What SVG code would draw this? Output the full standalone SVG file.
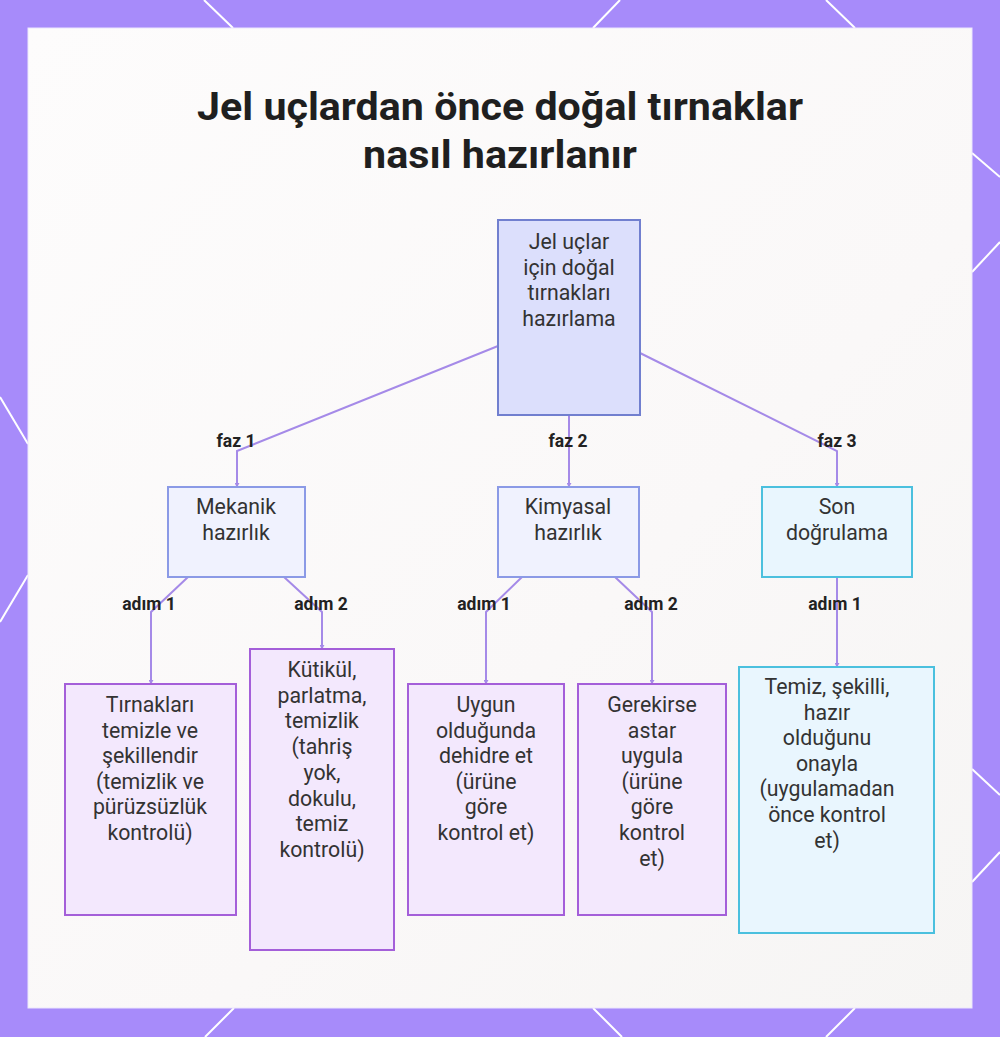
<svg xmlns="http://www.w3.org/2000/svg" width="1000" height="1037" viewBox="0 0 1000 1037">
<defs>
<linearGradient id="bg" x1="0" y1="0" x2="1" y2="1">
<stop offset="0" stop-color="#fdfcfc"/>
<stop offset="0.6" stop-color="#faf8f8"/>
<stop offset="1" stop-color="#f6f5f4"/>
</linearGradient>
<marker id="ah" viewBox="0 0 6 6" refX="5" refY="3" markerWidth="2.5" markerHeight="2.5" orient="auto">
<path d="M0,0 L6,3 L0,6 z" fill="#a58ae8"/>
</marker>
<style>
.frame{fill:#a78bfa}
.wl{stroke:#ffffff;stroke-width:2;fill:none}
.t{font-family:Roboto,"Liberation Sans",sans-serif;font-size:21.3px;fill:#333333;text-anchor:middle}
.lbl{font-family:Roboto,"Liberation Sans",sans-serif;font-size:17.5px;font-weight:700;fill:#222222;text-anchor:middle}
.title{font-family:Roboto,"Liberation Sans",sans-serif;font-size:38px;font-weight:700;fill:#1f1f1f;text-anchor:middle}
.root{fill:#dcdffc;stroke:#717fcf;stroke-width:2}
.phase{fill:#f0f2fe;stroke:#8b9ae6;stroke-width:2}
.cyan{fill:#e9f6fe;stroke:#4bc0de;stroke-width:2}
.leaf{fill:#f3e8fd;stroke:#a45fd9;stroke-width:2}
.c{stroke:#a58ae8;stroke-width:2;fill:none;marker-end:url(#ah)}
</style>
</defs>
<rect class="frame" x="0" y="0" width="1000" height="1037"/>
<g id="frame-lines">
<line class="wl" x1="204" y1="0" x2="233" y2="28"/>
<line class="wl" x1="620" y1="0" x2="593" y2="28"/>
<line class="wl" x1="826" y1="0" x2="855" y2="28"/>
<line class="wl" x1="234" y1="1008" x2="205" y2="1037"/>
<line class="wl" x1="593" y1="1008" x2="622" y2="1037"/>
<line class="wl" x1="855" y1="1008" x2="826" y2="1037"/>
<line class="wl" x1="972" y1="153" x2="1000" y2="177"/>
<line class="wl" x1="972" y1="272" x2="1000" y2="242"/>
<line class="wl" x1="972" y1="769" x2="1000" y2="795"/>
<line class="wl" x1="972" y1="882" x2="1000" y2="852"/>
<line class="wl" x1="0" y1="397" x2="28" y2="444"/>
<line class="wl" x1="28" y1="575" x2="0" y2="622"/>
</g>
<rect x="28" y="28" width="944" height="980" fill="url(#bg)" stroke="#ece6fd" stroke-width="1"/>
<text class="title" x="500" y="120" textLength="606" lengthAdjust="spacingAndGlyphs">Jel uçlardan önce doğal tırnaklar</text>
<text class="title" x="500" y="168" textLength="274" lengthAdjust="spacingAndGlyphs">nasıl hazırlanır</text>
<g id="connectors">
<path class="c" d="M498,346 L237,451 L237,487"/>
<path class="c" d="M569,415 L569,487"/>
<path class="c" d="M640,353 L837,451 L837,487"/>
<path class="c" d="M188,577 L151,612 L151,684"/>
<path class="c" d="M284,577 L322,612 L322,649"/>
<path class="c" d="M522,577 L486,612 L486,684"/>
<path class="c" d="M615,577 L652,612 L652,684"/>
<path class="c" d="M837,577 L837,667"/>
<text class="lbl" x="236" y="447">faz 1</text>
<text class="lbl" x="568" y="447">faz 2</text>
<text class="lbl" x="837" y="447">faz 3</text>
<text class="lbl" x="149" y="610">adım 1</text>
<text class="lbl" x="321" y="610">adım 2</text>
<text class="lbl" x="484" y="610">adım 1</text>
<text class="lbl" x="651" y="610">adım 2</text>
<text class="lbl" x="835" y="610">adım 1</text>
</g>
<g id="root">
<rect class="root" x="498" y="220" width="142" height="195"/>
<text class="t" x="569" y="249"><tspan x="569">Jel uçlar</tspan><tspan x="569" dy="25.5">için doğal</tspan><tspan x="569" dy="25.5">tırnakları</tspan><tspan x="569" dy="25.5">hazırlama</tspan></text>
</g>
<g id="mekanik">
<rect class="phase" x="168" y="487" width="137" height="90"/>
<text class="t" x="236" y="514"><tspan x="236">Mekanik</tspan><tspan x="236" dy="26">hazırlık</tspan></text>
</g>
<g id="kimyasal">
<rect class="phase" x="498" y="487" width="141" height="90"/>
<text class="t" x="568" y="514"><tspan x="568">Kimyasal</tspan><tspan x="568" dy="26">hazırlık</tspan></text>
</g>
<g id="son">
<rect class="cyan" x="762" y="487" width="150" height="90"/>
<text class="t" x="837" y="514"><tspan x="837">Son</tspan><tspan x="837" dy="26">doğrulama</tspan></text>
</g>
<g id="leaf1">
<rect class="leaf" x="65" y="684" width="171" height="231"/>
<text class="t" x="150" y="712"><tspan x="150">Tırnakları</tspan><tspan x="150" dy="25.6">temizle ve</tspan><tspan x="150" dy="25.6">şekillendir</tspan><tspan x="150" dy="25.6">(temizlik ve</tspan><tspan x="150" dy="25.6">pürüzsüzlük</tspan><tspan x="150" dy="25.6">kontrolü)</tspan></text>
</g>
<g id="leaf2">
<rect class="leaf" x="250" y="649" width="144" height="301"/>
<text class="t" x="322" y="677"><tspan x="322">Kütikül,</tspan><tspan x="322" dy="25.7">parlatma,</tspan><tspan x="322" dy="25.7">temizlik</tspan><tspan x="322" dy="25.7">(tahriş</tspan><tspan x="322" dy="25.7">yok,</tspan><tspan x="322" dy="25.7">dokulu,</tspan><tspan x="322" dy="25.7">temiz</tspan><tspan x="322" dy="25.7">kontrolü)</tspan></text>
</g>
<g id="leaf3">
<rect class="leaf" x="408" y="684" width="156" height="231"/>
<text class="t" x="486" y="712"><tspan x="486">Uygun</tspan><tspan x="486" dy="25.6">olduğunda</tspan><tspan x="486" dy="25.6">dehidre et</tspan><tspan x="486" dy="25.6">(ürüne</tspan><tspan x="486" dy="25.6">göre</tspan><tspan x="486" dy="25.6">kontrol et)</tspan></text>
</g>
<g id="leaf4">
<rect class="leaf" x="578" y="684" width="148" height="231"/>
<text class="t" x="652" y="712"><tspan x="652">Gerekirse</tspan><tspan x="652" dy="25.6">astar</tspan><tspan x="652" dy="25.6">uygula</tspan><tspan x="652" dy="25.6">(ürüne</tspan><tspan x="652" dy="25.6">göre</tspan><tspan x="652" dy="25.6">kontrol</tspan><tspan x="652" dy="25.6">et)</tspan></text>
</g>
<g id="leaf5">
<rect class="cyan" x="739" y="667" width="195" height="266"/>
<text class="t" x="827" y="694"><tspan x="827">Temiz, şekilli,</tspan><tspan x="827" dy="25.6">hazır</tspan><tspan x="827" dy="25.6">olduğunu</tspan><tspan x="827" dy="25.6">onayla</tspan><tspan x="827" dy="25.6">(uygulamadan</tspan><tspan x="827" dy="25.6">önce kontrol</tspan><tspan x="827" dy="25.6">et)</tspan></text>
</g>
</svg>
